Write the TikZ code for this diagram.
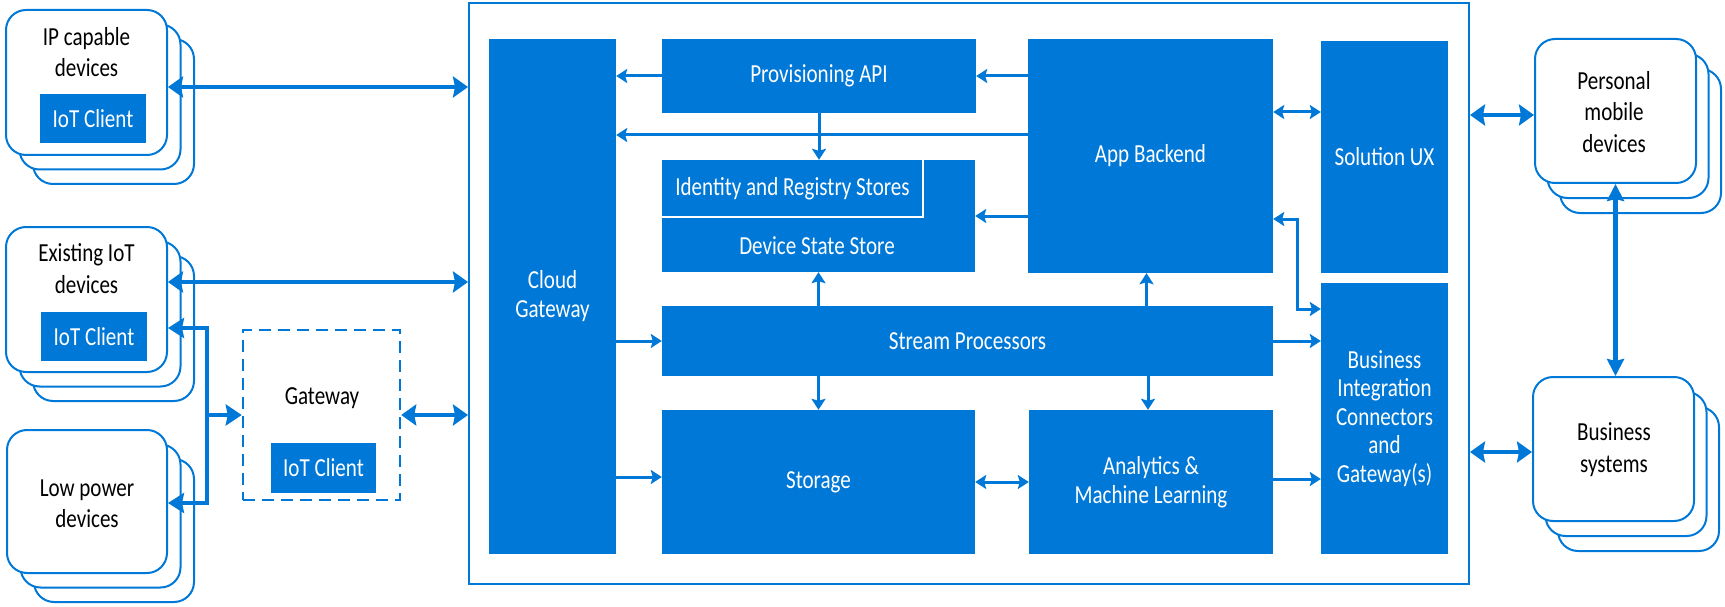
\documentclass[tikz,border=0pt]{standalone}
\usepackage{fontspec}
\setmainfont{Carlito}[FakeStretch=0.81]
\usetikzlibrary{arrows.meta}
\definecolor{msblue}{RGB}{0,120,215}
\begin{document}
\begin{tikzpicture}[x=1pt,y=-1pt,
  lblfont/.style={font=\fontsize{26}{30}\selectfont},
  blk/.style={fill=msblue, draw=none, inner sep=0pt, text=white, lblfont, align=center},
  wtext/.style={text=white, lblfont, inner sep=0pt, align=center},
  dtext/.style={text=black, lblfont, inner sep=0pt, align=center},
  devbox/.style={draw=msblue, line width=2pt, fill=white, rounded corners=20pt, inner sep=0pt},
  bigarr/.style={draw=msblue, line width=4.5pt,
    arrows={Stealth[length=15pt,width=21pt,inset=2pt]-Stealth[length=15pt,width=21pt,inset=2pt]}},
  vertarr/.style={draw=msblue, line width=4.5pt,
    arrows={Stealth[length=17pt,width=17pt,inset=2pt]-Stealth[length=17pt,width=17pt,inset=2pt]}},
  brk/.style={draw=msblue, line width=4pt, line join=miter,
    arrows={Stealth[length=16pt,width=20pt,inset=2pt]-Stealth[length=16pt,width=20pt,inset=2pt]}},
  brkarr/.style={draw=msblue, line width=4.5pt,
    arrows={-Stealth[length=16pt,width=21pt,inset=2pt]}},
  arr/.style={draw=msblue, line width=3pt,
    arrows={-Stealth[length=11pt,width=14pt,inset=2pt]}},
  darr/.style={draw=msblue, line width=3pt,
    arrows={Stealth[length=11pt,width=14pt,inset=2pt]-Stealth[length=11pt,width=14pt,inset=2pt]}}
]
\useasboundingbox (0,0) rectangle (1725,607);

% ---------- cloud system box ----------
\node[draw=msblue, line width=2pt, minimum width=1000, minimum height=581, inner sep=0pt] (sys) at (969,293.5) {};

\node[blk, minimum width=127, minimum height=515, font=\fontsize{26}{29}\selectfont] (cloud) at (552.5,296.5) {Cloud\\Gateway};
\node[blk, minimum width=314, minimum height=74] (prov) at (819,76) {Provisioning API};
\node[blk, minimum width=313, minimum height=112] (dss) at (818.5,216) {};
\node[wtext] (dsslbl) at (817,246) {Device State Store};
\node[blk, minimum width=261, minimum height=57] (ident) at (792.5,188.5) {Identity and Registry Stores};
\draw[white, line width=2.5pt] (ident.north east) -- (ident.south east) -- (ident.south west);
\node[blk, minimum width=245, minimum height=234] (app) at (1150.5,156) {App Backend};
\node[blk, minimum width=127, minimum height=232] (ux) at (1384.5,157) {Solution UX};
\node[blk, minimum width=127, minimum height=271, font=\fontsize{26}{28.5}\selectfont] (bi) at (1384.5,418.5) {Business\\Integration\\Connectors\\and\\Gateway(s)};
\node[blk, minimum width=611, minimum height=70] (stream) at (967.5,341) {Stream Processors};
\node[blk, minimum width=313, minimum height=144] (stor) at (818.5,482) {Storage};
\node[blk, minimum width=244, minimum height=144, font=\fontsize{26}{29}\selectfont] (ana) at (1151,482) {Analytics \&\\Machine Learning};

% ---------- left device stacks ----------
\node[devbox, minimum width=161, minimum height=145] (ip3) at (113.5,111.5) {};
\node[devbox, minimum width=161, minimum height=145] (ip2) at (100,97) {};
\node[devbox, minimum width=161, minimum height=145] (ip) at (86.5,82.5) {};
\node[dtext, font=\fontsize{26}{31}\selectfont] (iplbl) at (86.5,52.5) {IP capable\\devices};
\node[blk, minimum width=106, minimum height=49] (ipc) at (93,118.5) {IoT Client};

\node[devbox, minimum width=161, minimum height=145] (ex3) at (113.5,328.5) {};
\node[devbox, minimum width=161, minimum height=145] (ex2) at (100,314) {};
\node[devbox, minimum width=161, minimum height=145] (ex) at (86.5,299.5) {};
\node[dtext, font=\fontsize{26}{32}\selectfont] (exlbl) at (86.5,269) {Existing IoT\\devices};
\node[blk, minimum width=106, minimum height=49] (exc) at (94,336.5) {IoT Client};

\node[devbox, minimum width=160, minimum height=143] (low3) at (114,530.5) {};
\node[devbox, minimum width=160, minimum height=143] (low2) at (100.5,516) {};
\node[devbox, minimum width=160, minimum height=143] (low) at (87,501.5) {};
\node[dtext, font=\fontsize{26}{31}\selectfont] (lowlbl) at (87,503.5) {Low power\\devices};

% ---------- field gateway ----------
\node[draw=msblue, dash pattern=on 12pt off 7pt, line width=2.5pt, minimum width=157, minimum height=170, inner sep=0pt] (gw) at (321.5,415) {};
\node[dtext] (gwlbl) at (322,398) {Gateway};
\node[blk, minimum width=105, minimum height=50] (gwc) at (323.5,468) {IoT Client};

% ---------- right stacks ----------
\node[devbox, minimum width=161, minimum height=144] (pers3) at (1640.5,141) {};
\node[devbox, minimum width=161, minimum height=144] (pers2) at (1628,126) {};
\node[devbox, minimum width=161, minimum height=144] (pers) at (1615.5,111) {};
\node[dtext, font=\fontsize{26}{31.5}\selectfont] (perslbl) at (1614,112) {Personal\\mobile\\devices};

\node[devbox, minimum width=161, minimum height=144] (bus3) at (1638.5,479) {};
\node[devbox, minimum width=161, minimum height=144] (bus2) at (1626,464) {};
\node[devbox, minimum width=161, minimum height=144] (bus) at (1613.5,449) {};
\node[dtext, font=\fontsize{26}{32}\selectfont] (buslbl) at (1614,450) {Business\\systems};

% ---------- external connectors ----------
\draw[bigarr] ([yshift=-4.5pt]ip.east) -- ([yshift=-4.5pt]ip.east -| sys.west);
\draw[bigarr] ([yshift=17.5pt]ex.east) -- ([yshift=17.5pt]ex.east -| sys.west);
\coordinate (bx) at (207,415);
\draw[brk] ([yshift=-28.5pt]ex.east) -| (bx) |- ([yshift=-1.5pt]low.east);
\draw[brkarr] (bx) -- (bx -| gw.west);
\draw[bigarr] (gw.east) -- (gw.east -| sys.west);
\draw[bigarr] ([yshift=-4pt]pers.west) -- ([yshift=-4pt]pers.west -| sys.east);
\draw[bigarr] ([yshift=-3pt]bus.west) -- ([yshift=-3pt]bus.west -| sys.east);
\draw[vertarr] (pers.south) -- (pers.south |- bus.north);

% ---------- internal connectors ----------
\draw[arr] (prov.west) -- (prov.west -| cloud.east);
\draw[arr] ([yshift=21pt]app.west) -- ([yshift=21pt]app.west -| cloud.east);
\draw[arr] (app.west |- prov.east) -- (prov.east);
\draw[arr] (prov.south) -- (prov.south |- dss.north);
\draw[arr] (app.west |- dss.east) -- (dss.east);
\draw[arr] (stream.north -| dss.south) -- (dss.south);
\draw[arr] ([xshift=-4pt]stream.north -| app.south) -- ([xshift=-4pt]app.south);
\draw[arr] (cloud.east |- stream.west) -- (stream.west);
\draw[arr] ([yshift=5pt]cloud.east |- stor.west) -- ([yshift=5pt]stor.west);
\draw[arr] (stream.south -| stor.north) -- (stor.north);
\draw[arr] ([xshift=-3pt]stream.south -| ana.north) -- ([xshift=-3pt]ana.north);
\draw[darr] (stor.east) -- (ana.west);
\draw[arr] (stream.east) -- (stream.east -| bi.west);
\draw[arr] ([yshift=3pt]ana.east) -- ([yshift=3pt]ana.east -| bi.west);
\draw[darr] ([yshift=44pt]app.east) -- ([yshift=44pt]app.east -| ux.west);
\draw[darr] ([yshift=-63pt]app.east) -- ++(24,0) |- ([yshift=109.5pt]bi.west);
\end{tikzpicture}
\end{document}
